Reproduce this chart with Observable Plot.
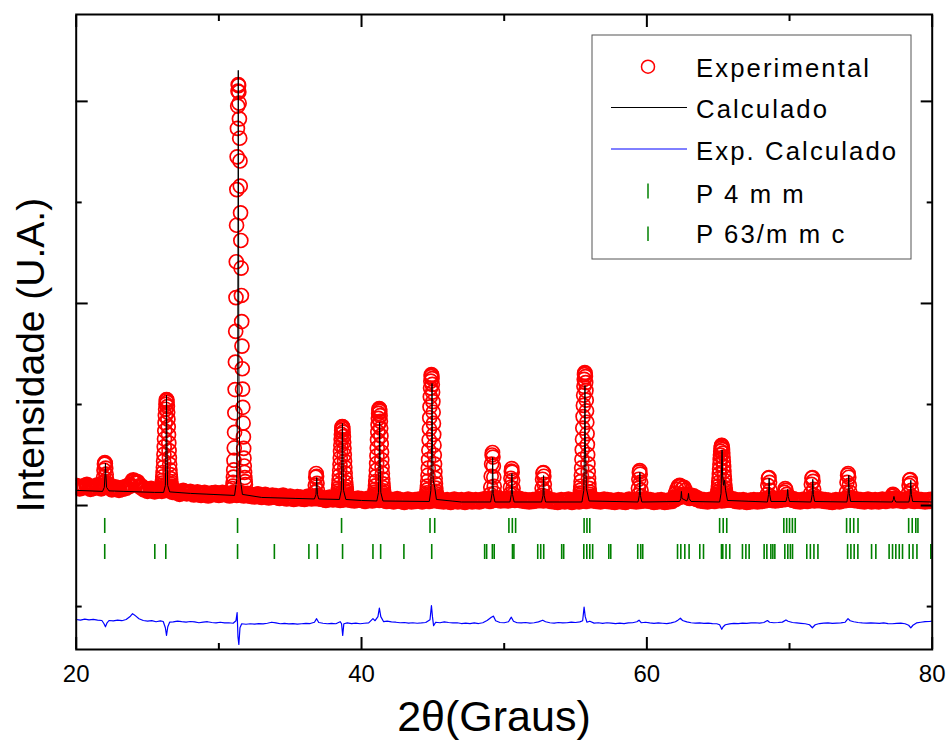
<!DOCTYPE html>
<html><head><meta charset="utf-8">
<script src="https://cdn.jsdelivr.net/npm/d3@7"></script>
<script src="https://cdn.jsdelivr.net/npm/@observablehq/plot@0.6"></script>
<style>body{margin:0;background:#fff}#chart{width:946px;height:742px}</style>
</head><body><div id="chart"></div>
<script>
// ---------- DATA ----------
// Experimental scan: background points (start, step, counts)
const expStart = 20, expStep = 0.25;
const expBackground = [
2190,2175,2185,2200,2170,2180,2195,2175,
2190,2200,2165,2175,2160,2170,2180,2200,
2245,2230,2190,2165,2150,2160,2145,2155,
2150,2160,2155,2140,2135,2120,2140,2125,
2130,2115,2125,2110,2120,2105,2115,2120,
2110,2120,2115,2105,2120,2110,2120,2105,
2110,2100,2095,2105,2090,2100,2085,2095,
2090,2080,2095,2075,2085,2070,2080,2075,
2070,2085,2075,2080,2075,2070,2060,2075,
2065,2070,2060,2065,2070,2060,2055,2065,
2060,2050,2065,2055,2070,2060,2060,2050,
2055,2045,2060,2050,2040,2055,2045,2050,
2055,2045,2060,2050,2060,2055,2050,2045,
2050,2040,2055,2045,2050,2040,2055,2045,
2050,2045,2055,2060,2050,2060,2065,2055,
2060,2055,2065,2060,2065,2055,2050,2045,
2050,2055,2060,2055,2065,2050,2045,2040,
2050,2045,2055,2040,2050,2045,2055,2050,
2060,2055,2050,2045,2055,2050,2045,2040,
2050,2045,2040,2055,2050,2045,2050,2055,
2055,2050,2040,2045,2050,2040,2045,2050,
2070,2090,2100,2095,2080,2090,2070,2055,
2050,2045,2055,2050,2060,2055,2060,2065,
2060,2050,2045,2050,2040,2045,2050,2045,
2050,2055,2065,2060,2055,2060,2065,2070,
2075,2060,2050,2045,2055,2050,2060,2055,
2060,2055,2050,2045,2040,2050,2045,2055,
2060,2065,2060,2055,2050,2045,2055,2045,
2050,2045,2055,2050,2060,2055,2065,2055,
2050,2060,2055,2050,2055,2050,2045,2050,
2055];
// Experimental scan: finer steps over the reflections
const peakStart = [21.86,25.93,30.96,36.70,38.25,40.84,44.50,49.00,50.38,52.60,55.25,59.35,61.90,64.84,68.40,69.60,71.45,73.95,77.15,78.30];
const peakStep  = [0.03,0.02,0.02,0.03,0.02,0.02,0.02,0.03,0.03,0.03,0.02,0.03,0.1,0.02,0.04,0.05,0.04,0.04,0.05,0.04];
const peakValues = [
[2200,2230,2280,2350,2410,2426,2415,2370,2310,2260,2220,2200,2190],
[2161,2166,2174,2186,2202,2223,2250,2285,2327,2379,2439,2506,2581,2659,2740,2818,2890,2953,3002,3035,3049,3045,3021,2979,2923,2855,2779,2700,2620,2543,2472,2408,2352,2305,2266,2236,2211,2193,2180,2170,2163],
[2167,2193,2230,2282,2352,2446,2570,2725,2918,3148,3420,3724,4058,4413,4774,5127,5451,5732,5954,6102,6167,6156,6093,5982,5827,5635,5410,5162,4897,4623,4349,4079,3821,3578,3354,3152,2972,2815,2679,2565,2469,2391,2327,2277,2237,2206],
[2090,2130,2200,2280,2317,2290,2220,2150,2100,2080],
[2073,2078,2084,2094,2106,2123,2145,2172,2206,2247,2295,2349,2408,2471,2535,2597,2655,2704,2744,2770,2782,2778,2759,2726,2681,2627,2566,2503,2439,2378,2321,2270,2226,2188,2158,2133,2114,2099,2089,2081,2075],
[2071,2076,2084,2096,2112,2133,2160,2195,2237,2289,2349,2416,2491,2569,2650,2728,2800,2863,2912,2945,2959,2955,2931,2889,2833,2765,2689,2610,2530,2453,2382,2318,2262,2215,2176,2146,2121,2103,2090,2080,2073],
[2070,2077,2089,2105,2126,2155,2193,2241,2300,2370,2454,2547,2649,2758,2869,2977,3076,3163,3231,3276,3296,3289,3257,3199,3122,3028,2923,2813,2703,2597,2499,2410,2334,2269,2215,2173,2140,2115,2096,2082,2073],
[2070,2110,2180,2290,2410,2500,2525,2480,2390,2280,2190,2120,2080,2060],
[2070,2110,2180,2270,2340,2366,2330,2250,2170,2110,2070],
[2060,2100,2170,2260,2320,2327,2290,2210,2140,2090,2060],
[2065,2073,2084,2101,2123,2152,2191,2239,2300,2372,2457,2552,2656,2767,2880,2991,3092,3180,3249,3296,3316,3309,3276,3217,3138,3043,2936,2824,2711,2603,2503,2413,2334,2268,2214,2170,2136,2111,2092,2078,2068],
[2060,2100,2170,2260,2330,2346,2310,2230,2150,2090,2060],
[2080,2120,2160,2190,2200,2190,2170,2180,2150,2110,2080],
[2061,2065,2070,2077,2086,2099,2115,2136,2161,2192,2228,2269,2313,2361,2409,2456,2499,2537,2566,2586,2595,2592,2577,2553,2519,2478,2432,2385,2337,2291,2248,2210,2176,2148,2125,2106,2092,2081,2073,2067,2063],
[2060,2110,2200,2270,2277,2230,2150,2090,2070],
[2080,2130,2168,2150,2110,2080],
[2070,2120,2210,2270,2277,2240,2160,2100,2070],
[2070,2130,2230,2300,2317,2280,2200,2130,2080],
[2060,2090,2110,2100,2070],
[2070,2120,2200,2250,2257,2220,2150,2090,2065]
];
// Calculated profile
const calcX = [20.0,21.85,21.97,22.02,22.05,22.08,22.13,22.3,25.5,26.13,26.25,26.30,26.33,26.36,26.41,26.55,28.0,31.1,31.25,31.32,31.36,31.40,31.47,31.65,33.0,
36.7,36.81,36.86,36.91,37.0,38.45,38.58,38.63,38.66,38.69,38.74,38.9,40.0,41.07,41.19,41.24,41.27,41.30,41.35,41.5,
44.75,44.86,44.91,44.94,44.97,45.02,45.13,45.25,47.0,49.05,49.15,49.19,49.23,49.35,50.40,50.50,50.54,50.58,50.70,
52.62,52.72,52.76,52.80,52.90,55.45,55.58,55.63,55.66,55.69,55.76,55.95,59.38,59.47,59.51,59.55,59.65,
62.30,62.38,62.42,62.46,62.80,62.88,62.92,62.96,63.1,65.10,65.20,65.24,65.27,65.31,65.38,65.45,65.52,65.65,
68.45,68.53,68.57,68.61,68.70,69.75,69.83,69.87,69.91,70.00,71.50,71.59,71.63,71.67,71.76,
74.02,74.11,74.15,74.19,74.28,77.20,77.28,77.32,77.36,77.45,78.37,78.46,78.50,78.54,78.63,80.0];
const calcY = [2150,2140,2180,2300,2420,2300,2180,2145,2130,2130,2200,2600,3090,2600,2200,2135,2120,2100,2250,3200,6307,3400,2300,2110,2080,
2065,2110,2277,2110,2065,2060,2150,2500,2812,2500,2150,2060,2050,2045,2130,2450,2822,2450,2130,2045,
2040,2150,2600,3208,2650,2250,2180,2060,2035,2035,2120,2475,2120,2035,2035,2110,2317,2110,2035,
2035,2100,2297,2100,2035,2035,2150,2600,3188,2600,2170,2045,2035,2100,2327,2100,2035,
2040,2070,2140,2070,2045,2075,2120,2070,2040,2035,2120,2400,2550,2300,2200,2250,2150,2050,
2035,2110,2270,2110,2040,2040,2090,2160,2090,2040,2035,2110,2260,2110,2040,
2035,2120,2300,2120,2040,2035,2060,2090,2060,2035,2035,2110,2250,2110,2040,2035];
// Difference (Exp - Calc), offset
const diffX = [20.0,20.3,20.6,20.9,21.2,21.5,21.8,21.95,22.05,22.15,22.3,22.6,22.9,23.2,23.5,23.8,23.95,24.1,24.4,24.7,25.0,25.3,25.6,25.9,26.1,26.25,26.33,26.42,26.55,26.8,27.1,27.4,27.7,28.0,28.3,28.6,28.9,29.2,29.5,29.8,30.1,30.4,30.7,31.0,31.2,31.28,31.34,31.40,31.48,31.6,31.9,32.2,32.5,32.8,33.1,33.4,33.7,34.0,34.3,34.6,34.9,35.2,35.5,35.8,36.1,36.4,36.7,36.85,37.0,37.3,37.6,37.9,38.2,38.5,38.6,38.68,38.76,39.0,39.3,39.6,39.9,40.2,40.5,40.8,40.95,41.15,41.25,41.35,41.55,41.8,42.1,42.4,42.7,43.0,43.3,43.6,43.9,44.2,44.5,44.8,44.9,44.97,45.05,45.2,45.5,45.8,46.1,46.4,46.7,47.0,47.3,47.6,47.9,48.2,48.5,48.8,49.1,49.25,49.4,49.7,50.0,50.3,50.5,50.65,50.9,51.2,51.5,51.8,52.1,52.4,52.7,52.9,53.2,53.5,53.8,54.1,54.4,54.7,55.0,55.3,55.5,55.6,55.68,55.8,56.0,56.3,56.6,56.9,57.2,57.5,57.8,58.1,58.4,58.7,59.0,59.3,59.45,59.6,59.9,60.2,60.5,60.8,61.1,61.4,61.7,62.0,62.2,62.35,62.5,62.8,63.1,63.4,63.7,64.0,64.3,64.6,64.9,65.1,65.25,65.35,65.5,65.8,66.1,66.4,66.7,67.0,67.3,67.6,67.9,68.2,68.45,68.6,68.9,69.2,69.5,69.75,69.9,70.2,70.5,70.8,71.1,71.4,71.6,71.8,72.1,72.4,72.7,73.0,73.3,73.6,73.9,74.1,74.25,74.5,74.8,75.1,75.4,75.7,76.0,76.3,76.6,76.9,77.2,77.5,77.8,78.1,78.35,78.5,78.65,78.9,79.2,79.5,79.8,80.0];
const diffY = [872,865,876,868,874,866,862,830,800,835,862,858,866,860,872,905,930,915,880,862,855,860,850,858,852,790,715,800,845,848,855,850,846,852,848,840,846,850,842,838,845,838,840,835,860,940,700,625,790,830,825,830,826,832,828,835,845,838,830,834,828,832,826,830,834,832,845,880,842,835,830,834,830,850,830,715,830,838,832,836,830,835,838,880,860,900,985,900,850,855,848,845,840,842,836,840,835,838,842,870,1010,900,812,845,840,848,842,838,840,832,836,832,838,832,840,862,895,905,860,842,840,850,895,855,840,838,842,836,840,848,865,850,840,836,842,838,840,846,842,848,860,995,900,845,855,836,840,834,840,836,832,836,832,838,840,850,865,840,845,838,834,838,835,832,838,850,868,885,862,848,840,836,838,834,836,832,830,820,775,800,820,828,834,832,836,834,838,840,836,842,862,845,840,842,846,868,855,842,838,834,830,820,790,820,832,836,838,834,836,838,845,880,860,850,842,838,836,838,836,834,838,832,830,834,836,830,815,790,815,838,845,850,852,855];
// Bragg reflection positions (2θ)
const braggP4mm = [22.0,31.31,38.6,44.8,45.13,50.33,50.57,50.8,55.6,55.8,56.0,65.1,65.35,65.6,69.6,69.8,70.0,70.2,70.4,74.0,74.25,74.5,74.8,78.35,78.6,78.85,79.0];
const braggP63mmc = [22.0,25.51,26.28,31.31,33.89,36.31,36.9,38.67,40.8,41.34,42.97,44.92,48.63,48.77,49.17,49.3,50.58,50.68,52.35,52.56,52.77,54.03,54.17,55.58,55.79,56.0,56.2,57.33,57.47,59.36,59.57,59.71,62.15,62.38,62.66,62.96,63.71,63.97,65.23,65.32,65.55,65.81,66.7,66.94,67.17,68.22,68.41,68.69,68.83,68.97,69.67,69.88,70.06,70.21,71.21,71.46,71.71,71.99,74.07,74.3,74.53,74.79,75.75,76.05,76.98,77.22,77.45,77.69,77.92,78.39,78.65,78.93,79.9];
// Axis ticks
const xMajor = [20,40,60,80], xMinor = [30,50,70];
const yMajor = [2000,4000,6000], yMinor = [1000,3000,5000];
const legendLabels = ["Experimental","Calculado","Exp. Calculado","P 4 m m","P 63/m m c"];

// ---------- BUILD ----------
const expBg = expBackground.map((y,i)=>({x: expStart + i*expStep, y}));
const expPk = [];
peakStart.forEach((s,k)=>peakValues[k].forEach((y,i)=>expPk.push({x: s + i*peakStep[k], y})));
const calc = calcX.map((x,i)=>({x, y: calcY[i]}));
const diff = diffX.map((x,i)=>({x, y: diffY[i]}));
const row1 = [1723,1872], row2 = [1466,1614]; // tick-row levels (y units)

const W = 946, H = 742;
const tickOpts = {tickFormat: () => "", label: null, strokeWidth: 2};
const plot = Plot.plot({
  width: W, height: H,
  marginLeft: 75.7, marginRight: 14.3, marginTop: 14, marginBottom: 93,
  x: {domain: [20, 80]},
  y: {domain: [575, 6860]},
  style: {fontFamily: "'Liberation Sans', Arial, sans-serif", background: "white", color: "black"},
  marks: [
    Plot.dot(expBg, {x: "x", y: "y", r: 7, stroke: "#ff0000", strokeWidth: 3.6, fill: "none", clip: true}),
    Plot.dot(expPk, {x: "x", y: "y", r: 7, stroke: "#ff0000", strokeWidth: 1.7, fill: "none", clip: true}),
    Plot.line(calc, {x: "x", y: "y", stroke: "black", strokeWidth: 1}),
    Plot.line(diff, {x: "x", y: "y", stroke: "#0000ff", strokeWidth: 1.2}),
    Plot.ruleX(braggP4mm, {x: d => d, y1: row1[0], y2: row1[1], stroke: "#008000", strokeWidth: 1.6}),
    Plot.ruleX(braggP63mmc, {x: d => d, y1: row2[0], y2: row2[1], stroke: "#008000", strokeWidth: 1.6}),
    Plot.frame({stroke: "black", strokeWidth: 2}),
    Plot.axisX(xMajor, {anchor: "bottom", tickSize: -12, ...tickOpts}),
    Plot.axisX(xMinor, {anchor: "bottom", tickSize: -6, ...tickOpts}),
    Plot.axisX(xMajor, {anchor: "top", tickSize: -12, ...tickOpts}),
    Plot.axisX(xMinor, {anchor: "top", tickSize: -6, ...tickOpts}),
    Plot.axisY(yMajor, {anchor: "left", tickSize: -12, ...tickOpts}),
    Plot.axisY(yMinor, {anchor: "left", tickSize: -6, ...tickOpts}),
    Plot.axisY(yMajor, {anchor: "right", tickSize: -12, ...tickOpts}),
    Plot.axisY(yMinor, {anchor: "right", tickSize: -6, ...tickOpts}),
    Plot.axisX(xMajor, {anchor: "bottom", tickSize: 0, tickPadding: 15, fontSize: 24, label: null})
  ]
});

const svg = d3.select(plot);
// axis titles
svg.append("text").attr("x", 494).attr("y", 731).attr("text-anchor", "middle")
  .attr("font-size", 43).attr("fill", "black").text("2θ(Graus)");
svg.append("text").attr("transform", "translate(44,355) rotate(-90)").attr("text-anchor", "middle")
  .attr("font-size", 39).attr("fill", "black").text("Intensidade (U.A.)");
// legend
const lg = svg.append("g").attr("text-anchor", "start");
lg.append("rect").attr("x", 592).attr("y", 35).attr("width", 319).attr("height", 224)
  .attr("fill", "white").attr("stroke", "#555").attr("stroke-width", 1);
const baselines = [76.7, 118.3, 160, 203.3, 243.3];
lg.append("circle").attr("cx", 648).attr("cy", 66.7).attr("r", 6.5).attr("fill", "none").attr("stroke", "#ff0000").attr("stroke-width", 1.5);
lg.append("line").attr("x1", 611).attr("x2", 687).attr("y1", 107.5).attr("y2", 107.5).attr("stroke", "black");
lg.append("line").attr("x1", 611).attr("x2", 687).attr("y1", 149).attr("y2", 149).attr("stroke", "#0000ff");
lg.append("line").attr("x1", 648).attr("x2", 648).attr("y1", 183.5).attr("y2", 198.5).attr("stroke", "#008000").attr("stroke-width", 1.5);
lg.append("line").attr("x1", 648).attr("x2", 648).attr("y1", 226.5).attr("y2", 241).attr("stroke", "#008000").attr("stroke-width", 1.5);
legendLabels.forEach((t, i) => {
  lg.append("text").attr("x", 696).attr("y", baselines[i]).attr("font-size", 25.7)
    .attr("letter-spacing", 2.1).attr("text-anchor", "start").attr("fill", "black").text(t);
});
document.getElementById("chart").appendChild(plot);
</script></body></html>
